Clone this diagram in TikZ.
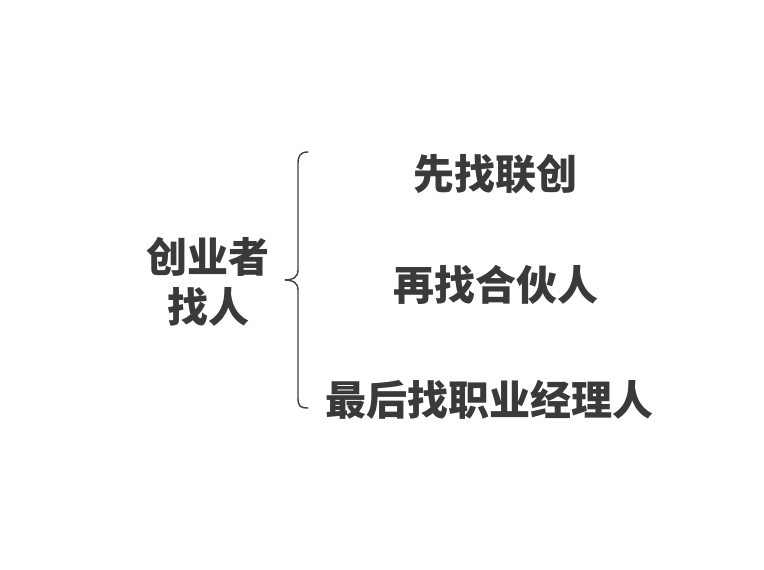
\documentclass[tikz,border=0pt]{standalone}
\usepackage{fontspec}
\newfontfamily\cjk{Noto Sans CJK SC}
\definecolor{txt}{HTML}{3A3A3A}
\definecolor{brc}{HTML}{404040}
\begin{document}
\begin{tikzpicture}[x=1pt,y=1pt,
  lbl/.style={font=\cjk\bfseries\fontsize{41}{50}\selectfont, text=txt, inner sep=0pt, align=center},
  bracepath/.style={draw=brc, line width=1.4pt, line cap=round, line join=round}]
\useasboundingbox (0,0) rectangle (764,570);
\fill[white] (0,0) rectangle (764,570);
\node[lbl] (who) at (208,288) {创业者\\找人};
\coordinate (btop) at (308,418);
\coordinate (bbot) at (308,162);
\coordinate (btip) at (285,290);
\draw[bracepath] (btop) .. controls (300,418) and (298,414) .. (298,406)
  -- (298,300) .. controls (298,292) and (292,290) .. (btip)
  .. controls (292,290) and (298,288) .. (298,280)
  -- (298,172) .. controls (298,164) and (300,162) .. (bbot);
\node[lbl] (a) at (495,396) {先找联创};
\node[lbl] (b) at (496,285) {再找合伙人};
\node[lbl] (c) at (489,170) {最后找职业经理人};
\end{tikzpicture}
\end{document}
